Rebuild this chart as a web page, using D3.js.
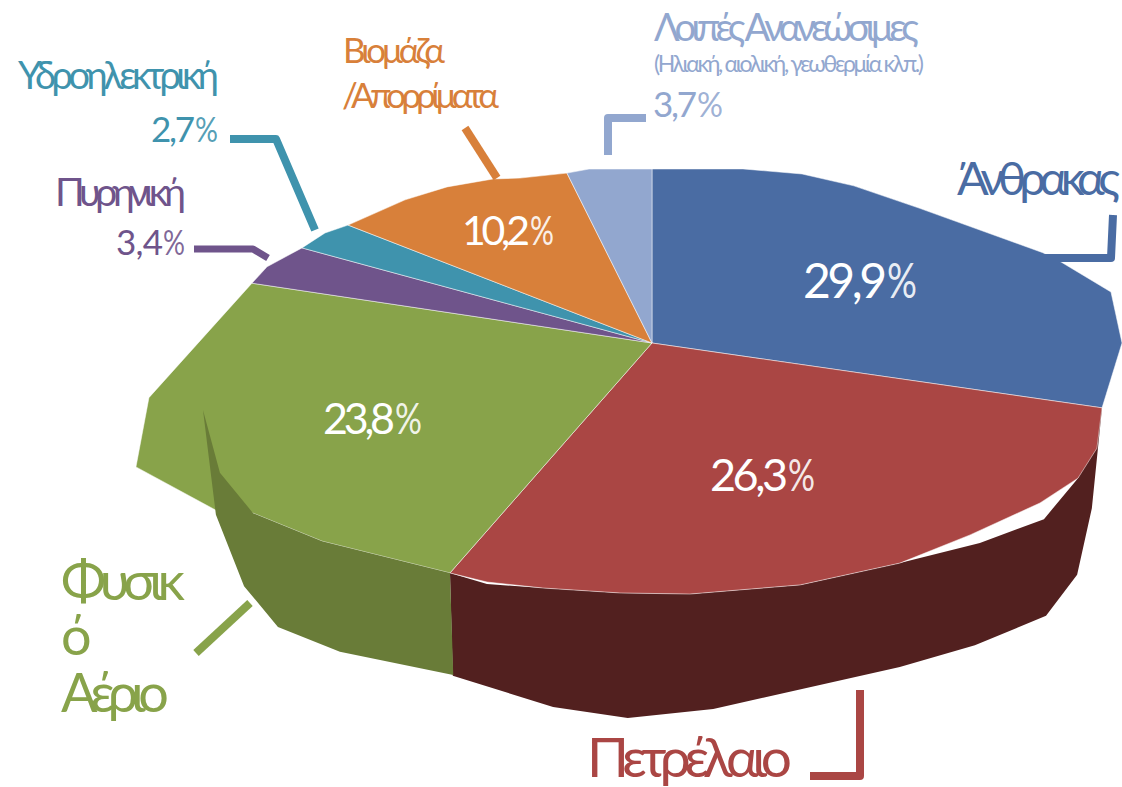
<!DOCTYPE html>
<html lang="el"><head><meta charset="utf-8">
<script src="https://cdnjs.cloudflare.com/ajax/libs/d3/7.8.5/d3.min.js"></script>
<style>html,body{margin:0;background:#fff}svg{display:block}text{font-family:Lato,"Noto Sans","Open Sans",sans-serif}</style>
</head><body><svg id="c" width="1122" height="787"></svg>
<script>
// Chart data
const categories = ["Άνθρακας","Πετρέλαιο","Φυσικό Αέριο","Πυρηνική","Υδροηλεκτρική","Βιομάζα /Απορρίματα","Λοιπές Ανανεώσιμες"];
const shares = [29.9,26.3,23.8,3.4,2.7,10.2,3.7];
const shareLabels = ["29,9","26,3","23,8","3,4","2,7","10,2","3,7"];
const colors = ["#4A6CA3","#AA4644","#88A34A","#6F548B","#3F93AD","#D8803A","#92A7CF"];
const wallColors = [null,"#52201F","#697C38",null,null,null,null];

// Distorted 3-D outline, polar: screen angle (deg clockwise from top), radius (px)
const spokeAngles = [0,98.2,221.3,278.5,285.2,291.2,333.4,360];
const rimAngles = [0,27.6,41.6,52.1,63.2,77,78.8,83.66,90,98.2,103.3,107.6,112.4,121.1,131.6,148.5,171.4,187.3,204,214.6,221.3,239,246.9,249,256.5,263.8,278.5,281.2,285.2,288.6,291.2,300.1,307.3,315.9,321.3,333.4,340.1,360];
const rimRadii  = [174,196.4,226,255.8,299.2,401.2,417,461.8,470,454.7,457.2,446.9,419.7,371.5,331.5,283.7,253.9,252,268.2,290.4,306.1,384.8,433.7,466.9,530.7,506,404.5,392.4,362.7,345,326,285.4,257.6,228.4,211.3,190,185,174];
const wallTop = [null,
  [[98.2,454.7],[107.6,446.9],[114.2,429.7],[121.4,384.1],[131.6,331.5],[148.5,283.7],[171.4,253.9],[187.3,252],[204,268.2],[214.4,292.1],[221.3,306.1]],
  [[221.3,306.1],[239,384.8],[246.9,433.7],[253.3,451.1],[261.5,454]]];
const wallBottom = [null,
  [[210.9,387.9],[195.2,377.2],[183.7,375.8],[170.5,371],[142.6,408],[133.1,442.2],[124.7,479.3],[118.6,484.2],[110.6,469.9]],
  [[248.5,468.7],[239.2,474.9],[232.8,469.6],[225.3,439.1],[210.9,387]]];

// Layout
const center = [652,343];
const valueLabels = [
  {x:803,w:84,pw:30,y:298,size:48,fill:"#fff"},
  {x:710,w:78,pw:27,y:491,size:45,fill:"#fff"},
  {x:323,w:72,pw:27,y:434,size:43,fill:"#fff"},
  {x:116,w:47,pw:22,y:255,size:35,fill:colors[3]},
  {x:151,w:44,pw:23,y:142,size:35,fill:colors[4]},
  {x:462,w:68,pw:24,y:245,size:41,fill:"#fff"},
  {x:653,w:44,pw:26,y:117,size:35,fill:colors[6]}];
const nameLabels = [
  {t:"Άνθρακας",x:957,w:163,y:195,size:47,fill:colors[0]},
  {t:"Πετρέλαιο",x:587,w:205,y:777,size:55,fill:colors[1]},
  {t:"Φυσικ",x:61,w:124,y:600,size:54,fill:colors[2]},
  {t:"ό",x:61,w:26,y:655,size:54,fill:colors[2]},
  {t:"Αέριο",x:61,w:108,y:712,size:54,fill:colors[2]},
  {t:"Πυρηνική",x:55,w:131,y:206,size:39,fill:colors[3]},
  {t:"Υδροηλεκτρική",x:18,w:201,y:89,size:38,fill:colors[4]},
  {t:"Βιομάζα",x:343,w:102,y:63,size:35,fill:colors[5]},
  {t:"/Απορρίματα",x:342,w:157,y:108,size:35,fill:colors[5]},
  {t:"Λοιπές Ανανεώσιμες",x:654,w:265,y:41,size:38,fill:colors[6]},
  {t:"(Ηλιακή, αιολική, γεωθερμία κλπ.)",x:654,w:270,y:72,size:23,fill:colors[6]}];
const leaders = [
  {i:0,w:8,p:[[1113,215],[1111,258],[1043,258]]},
  {i:1,w:8,p:[[860,690],[860,776],[810,776]]},
  {i:2,w:8,p:[[250,603],[196,653]]},
  {i:3,w:7,p:[[194,249],[253,249],[268,258]]},
  {i:4,w:8,p:[[230,139],[276,139],[315,230]]},
  {i:5,w:8,p:[[465,128],[497,178]]},
  {i:6,w:8,p:[[646,118],[608,118],[608,155]]}];

const svg = d3.select("#c");
const rad = d => d*Math.PI/180;
const pie = d3.pie().sort(null)(shares);
const warp = d3.scaleLinear().domain([0,...pie.map(d=>d.endAngle)]).range(spokeAngles);
const rimR = d3.scaleLinear().domain(rimAngles).range(rimRadii);
const radial = d3.lineRadial().angle(d=>rad(d[0])).radius(d=>d[1]).curve(d3.curveLinearClosed);
const g = svg.append("g").attr("transform",`translate(${center})`);

function sliceOutline(d){
  const a0 = warp(d.startAngle), a1 = warp(d.endAngle);
  const inner = rimAngles.filter(a=>a>a0+1e-6 && a<a1-1e-6);
  return [[0,0],...[a0,...inner,a1].map(a=>[a,rimR(a)])];
}
// red wall lies below the top faces, green wall in front of its face
const wall = i => g.append("path").attr("d",radial([...wallTop[i],...wallBottom[i]])).attr("fill",wallColors[i]);
wall(1);
g.selectAll("path.slice").data(pie).join("path").attr("class","slice")
  .attr("d",d=>radial(sliceOutline(d))).attr("fill",(d,i)=>colors[i])
  .attr("stroke","#fff").attr("stroke-opacity",0.7).attr("stroke-width",0.7);
wall(2);

const line = d3.line();
svg.selectAll("path.leader").data(leaders).join("path").attr("class","leader")
  .attr("d",d=>line(d.p)).attr("fill","none").attr("stroke",d=>colors[d.i])
  .attr("stroke-width",d=>d.w).attr("stroke-linejoin","round");

// fit a label to its width by tightening the letter spacing
function fit(sel){
  sel.each(function(d){
    const n = this.getComputedTextLength(), c = this.textContent.length;
    d3.select(this).attr("letter-spacing",c>1 ? ((d.w-n)/(c-1)).toFixed(3) : 0);
  });
}
svg.selectAll("text.name").data(nameLabels).join("text").attr("class","name")
  .attr("x",d=>d.x).attr("y",d=>d.y).attr("font-size",d=>d.size).attr("fill",d=>d.fill)
  .text(d=>d.t).call(fit);
svg.selectAll("text.val").data(valueLabels).join("text").attr("class","val")
  .attr("x",d=>d.x).attr("y",d=>d.y).attr("font-size",d=>d.size).attr("fill",d=>d.fill)
  .text((d,i)=>shareLabels[i]).call(fit);
// the percent sign is squeezed horizontally, as in the original
svg.selectAll("text.pct").data(valueLabels).join("text").attr("class","pct")
  .attr("font-size",d=>d.size).attr("fill",d=>d.fill).attr("fill-opacity",0.9).text("%")
  .attr("transform",function(d){
    return `translate(${d.x+d.w},${d.y}) scale(${d.pw/this.getComputedTextLength()},1)`;
  });
</script></body></html>
